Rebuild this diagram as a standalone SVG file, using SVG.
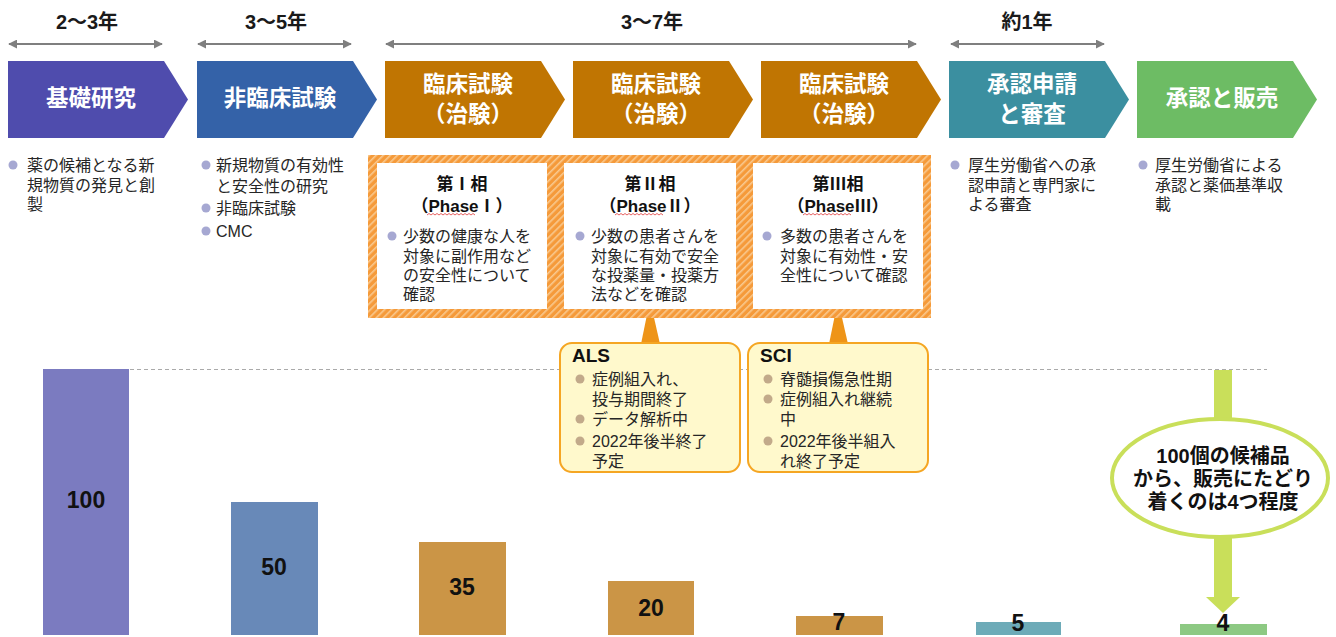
<svg xmlns="http://www.w3.org/2000/svg" width="1336" height="637" viewBox="0 0 1336 637">
<defs>
<marker id="ah" viewBox="0 0 10 10" refX="9" refY="5" markerWidth="4.5" markerHeight="4.5" orient="auto-start-reverse" markerUnits="strokeWidth">
<path d="M0,0 L10,5 L0,10 Z" fill="#7f7f7f"/>
</marker>
<pattern id="hatch" width="5" height="5" patternUnits="userSpaceOnUse" patternTransform="rotate(45)">
<rect width="5" height="5" fill="#F59A3A"/>
<rect width="1.6" height="5" fill="#F9C98F"/>
</pattern>
<style>
.jp{font-family:"Liberation Sans","Noto Sans CJK JP",sans-serif}
.hd{font-size:22.5px;font-weight:700;fill:#fff;text-anchor:middle;dominant-baseline:central}
.yr{font-size:20px;font-weight:700;fill:#1a1a1a;text-anchor:middle;dominant-baseline:central}
.bt{font-size:16px;fill:#262626;dominant-baseline:central}
.pt{font-size:17px;font-weight:700;fill:#111;text-anchor:middle;dominant-baseline:central}
.nb{font-size:23px;font-weight:700;fill:#111;text-anchor:middle;dominant-baseline:central}
.el{font-size:20px;font-weight:700;fill:#111;text-anchor:middle;dominant-baseline:central}
.bl{fill:#A6A8D2}
.tb{fill:#C2AA8A}
.span{stroke:#7f7f7f;stroke-width:2;fill:none}
.wave{stroke:#E03A3A;stroke-width:0.8;fill:none}
.call{fill:#FFF9CC;stroke:#F5A623;stroke-width:2}
</style>
</defs>
<rect width="1336" height="637" fill="#fff"/>

<g id="durations">
<line class="span" x1="9" y1="44" x2="162" y2="44" marker-start="url(#ah)" marker-end="url(#ah)"/>
<line class="span" x1="198" y1="44" x2="351" y2="44" marker-start="url(#ah)" marker-end="url(#ah)"/>
<line class="span" x1="386" y1="44" x2="916" y2="44" marker-start="url(#ah)" marker-end="url(#ah)"/>
<line class="span" x1="951" y1="44" x2="1104" y2="44" marker-start="url(#ah)" marker-end="url(#ah)"/>
<text class="jp yr" x="87" y="22">2〜3年</text>
<text class="jp yr" x="276" y="22">3〜5年</text>
<text class="jp yr" x="652" y="22">3〜7年</text>
<text class="jp yr" x="1027" y="22">約1年</text>
</g>

<g id="stage1">
<path d="M8,61 H164 L188,99.5 L164,138 H8 Z" fill="#4F4CAD"/>
<text class="jp hd" x="91" y="98">基礎研究</text>
</g>
<g id="stage2">
<path d="M197,61 H353 L377,99.5 L353,138 H197 Z" fill="#3462A8"/>
<text class="jp hd" x="280" y="98">非臨床試験</text>
</g>
<g id="stage3">
<path d="M385,61 H541 L565,99.5 L541,138 H385 Z" fill="#C07502"/>
<text class="jp hd" x="468" y="84">臨床試験<tspan x="468" dy="30">（治験）</tspan></text>
</g>
<g id="stage4">
<path d="M573,61 H729 L753,99.5 L729,138 H573 Z" fill="#C07502"/>
<text class="jp hd" x="656" y="84">臨床試験<tspan x="656" dy="30">（治験）</tspan></text>
</g>
<g id="stage5">
<path d="M761,61 H917 L941,99.5 L917,138 H761 Z" fill="#C07502"/>
<text class="jp hd" x="844" y="84">臨床試験<tspan x="844" dy="30">（治験）</tspan></text>
</g>
<g id="stage6">
<path d="M949,61 H1105 L1129,99.5 L1105,138 H949 Z" fill="#3B8FA0"/>
<text class="jp hd" x="1032" y="84">承認申請<tspan x="1032" dy="30">と審査</tspan></text>
</g>
<g id="stage7">
<path d="M1137,61 H1293 L1317,99.5 L1293,138 H1137 Z" fill="#6DBC64"/>
<text class="jp hd" x="1222" y="98">承認と販売</text>
</g>

<g id="desc1">
<circle class="bl" cx="13" cy="165" r="4.5"/>
<text class="jp bt" x="27" y="165">薬の候補となる新<tspan x="27" dy="20">規物質の発見と創</tspan><tspan x="27" dy="19">製</tspan></text>
</g>
<g id="desc2">
<circle class="bl" cx="206" cy="165" r="4.5"/>
<text class="jp bt" x="216" y="165">新規物質の有効性<tspan x="216" dy="21">と安全性の研究</tspan><tspan x="216" dy="22">非臨床試験</tspan><tspan x="216" dy="23">CMC</tspan></text>
<circle class="bl" cx="206" cy="208" r="4.5"/>
<circle class="bl" cx="206" cy="231" r="4.5"/>
</g>
<g id="desc6">
<circle class="bl" cx="955" cy="165" r="4.5"/>
<text class="jp bt" x="968" y="165">厚生労働省への承<tspan x="968" dy="20">認申請と専門家に</tspan><tspan x="968" dy="19">よる審査</tspan></text>
</g>
<g id="desc7">
<circle class="bl" cx="1143" cy="165" r="4.5"/>
<text class="jp bt" x="1155" y="165">厚生労働省による<tspan x="1155" dy="20">承認と薬価基準収</tspan><tspan x="1155" dy="19">載</tspan></text>
</g>

<line id="baseline" x1="130" y1="369.5" x2="1267" y2="369.5" stroke="#AAAAAA" stroke-width="1" stroke-dasharray="4 3"/>

<g id="connectors">
<path d="M650,300 L641,344 L660,344 Z" fill="#EE9418"/>
<path d="M838,300 L829,344 L848,344 Z" fill="#EE9418"/>
<path d="M1214,370 H1232 V597 H1240 L1223,613 L1206,597 H1214 Z" fill="#C9DF5A"/>
</g>

<g id="phases">
<rect x="368" y="155" width="563" height="163" fill="url(#hatch)"/>
<g id="phase1">
<rect x="377" y="163" width="170" height="146" fill="#fff"/>
<text class="jp pt" x="462" y="184">第Ⅰ相<tspan x="462" dy="22">（PhaseⅠ）</tspan></text>
<path class="wave" d="M427,215 l2,-1.5 l2,1.5 l2,-1.5 l2,1.5 l2,-1.5 l2,1.5 l2,-1.5 l2,1.5 l2,-1.5 l2,1.5 l2,-1.5 l2,1.5 l2,-1.5 l2,1.5 l2,-1.5 l2,1.5 l2,-1.5 l2,1.5 l2,-1.5 l2,1.5 l2,-1.5 l2,1.5 l2,-1.5 l2,1.5"/>
<circle class="bl" cx="392" cy="236" r="4.5"/>
<text class="jp bt" x="403" y="236">少数の健康な人を<tspan x="403" dy="19.5">対象に副作用など</tspan><tspan x="403" dy="19">の安全性について</tspan><tspan x="403" dy="19">確認</tspan></text>
</g>
<g id="phase2">
<rect x="564" y="163" width="172" height="146" fill="#fff"/>
<text class="jp pt" x="650" y="184">第Ⅱ相<tspan x="650" dy="22">（PhaseⅡ）</tspan></text>
<path class="wave" d="M615,215 l2,-1.5 l2,1.5 l2,-1.5 l2,1.5 l2,-1.5 l2,1.5 l2,-1.5 l2,1.5 l2,-1.5 l2,1.5 l2,-1.5 l2,1.5 l2,-1.5 l2,1.5 l2,-1.5 l2,1.5 l2,-1.5 l2,1.5 l2,-1.5 l2,1.5 l2,-1.5 l2,1.5 l2,-1.5 l2,1.5"/>
<circle class="bl" cx="580" cy="236" r="4.5"/>
<text class="jp bt" x="591" y="236">少数の患者さんを<tspan x="591" dy="19.5">対象に有効で安全</tspan><tspan x="591" dy="19">な投薬量・投薬方</tspan><tspan x="591" dy="19">法などを確認</tspan></text>
</g>
<g id="phase3">
<rect x="753" y="163" width="170" height="146" fill="#fff"/>
<text class="jp pt" x="838" y="184">第Ⅲ相<tspan x="838" dy="22">（PhaseⅢ）</tspan></text>
<path class="wave" d="M803,215 l2,-1.5 l2,1.5 l2,-1.5 l2,1.5 l2,-1.5 l2,1.5 l2,-1.5 l2,1.5 l2,-1.5 l2,1.5 l2,-1.5 l2,1.5 l2,-1.5 l2,1.5 l2,-1.5 l2,1.5 l2,-1.5 l2,1.5 l2,-1.5 l2,1.5 l2,-1.5 l2,1.5 l2,-1.5 l2,1.5"/>
<circle class="bl" cx="767" cy="236" r="4.5"/>
<text class="jp bt" x="780" y="236">多数の患者さんを<tspan x="780" dy="19.5">対象に有効性・安</tspan><tspan x="780" dy="19">全性について確認</tspan></text>
</g>
</g>

<g id="als">
<rect class="call" x="560" y="343" width="180" height="129" rx="12"/>
<text class="jp" x="572" y="355" font-size="19" font-weight="700" fill="#111" dominant-baseline="central">ALS</text>
<circle class="tb" cx="580" cy="379" r="4.5"/>
<circle class="tb" cx="580" cy="419" r="4.5"/>
<circle class="tb" cx="580" cy="441" r="4.5"/>
<text class="jp bt" x="592" y="379">症例組入れ、<tspan x="592" dy="20">投与期間終了</tspan><tspan x="592" dy="20">データ解析中</tspan><tspan x="592" dy="22">2022年後半終了</tspan><tspan x="592" dy="20">予定</tspan></text>
</g>
<g id="sci">
<rect class="call" x="748" y="343" width="180" height="129" rx="12"/>
<text class="jp" x="760" y="355" font-size="19" font-weight="700" fill="#111" dominant-baseline="central">SCI</text>
<circle class="tb" cx="768" cy="379" r="4.5"/>
<circle class="tb" cx="768" cy="399" r="4.5"/>
<circle class="tb" cx="768" cy="441" r="4.5"/>
<text class="jp bt" x="780" y="379">脊髄損傷急性期<tspan x="780" dy="20">症例組入れ継続</tspan><tspan x="780" dy="20">中</tspan><tspan x="780" dy="22">2022年後半組入</tspan><tspan x="780" dy="20">れ終了予定</tspan></text>
</g>

<g id="bars">
<rect x="43" y="369" width="86" height="266" fill="#7B7BC0"/>
<text class="jp nb" x="86" y="500">100</text>
<rect x="231" y="502" width="87" height="133" fill="#6889B8"/>
<text class="jp nb" x="274" y="567">50</text>
<rect x="419" y="542" width="87" height="93" fill="#CB9546"/>
<text class="jp nb" x="462" y="587">35</text>
<rect x="608" y="581" width="86" height="54" fill="#CB9546"/>
<text class="jp nb" x="651" y="608">20</text>
<rect x="796" y="616" width="87" height="19" fill="#CB9546"/>
<text class="jp nb" x="839" y="622">7</text>
<rect x="976" y="622" width="85" height="13" fill="#6DABB8"/>
<text class="jp nb" x="1018" y="623">5</text>
<rect x="1180" y="624" width="87" height="11" fill="#8DC983"/>
<text class="jp nb" x="1223" y="623">4</text>
</g>

<g id="summary">
<ellipse cx="1220" cy="478" rx="108" ry="59" fill="#fff" stroke="#C9DF5A" stroke-width="4"/>
<text class="jp el" x="1223" y="456">100個の候補品<tspan x="1223" dy="23">から、販売にたどり</tspan><tspan x="1223" dy="23">着くのは4つ程度</tspan></text>
</g>
</svg>
